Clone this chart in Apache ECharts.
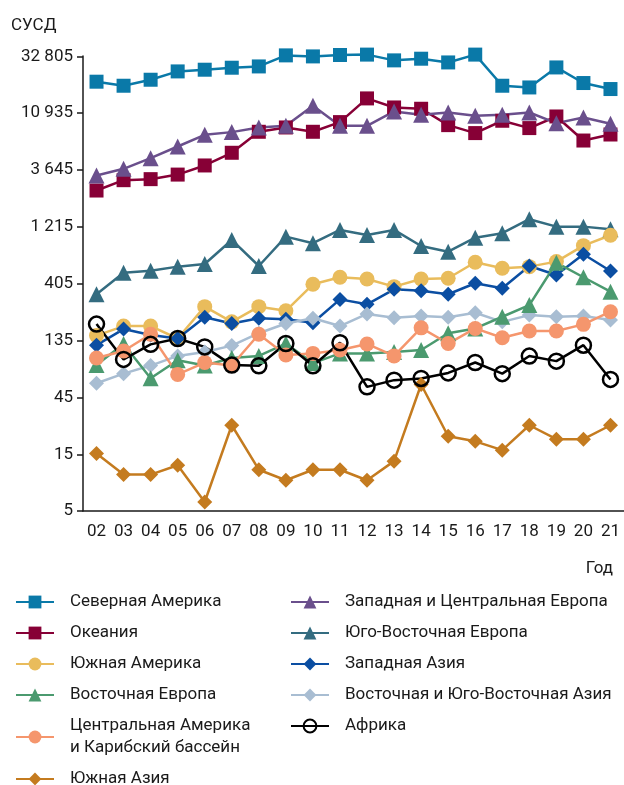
<!DOCTYPE html>
<html>
<head>
<meta charset="utf-8">
<script src="https://cdn.jsdelivr.net/npm/echarts@6/dist/echarts.min.js"></script>
<style>
  html, body { margin: 0; padding: 0; background: #ffffff; }
  #chart { width: 624px; height: 785px; }
</style>
</head>
<body>
<div id="chart"></div>
<script>
var years = ['02', '03', '04', '05', '06', '07', '08', '09', '10', '11', '12', '13', '14', '15', '16', '17', '18', '19', '20', '21']
var yTicks = [5, 15, 45, 135, 405, 1215, 3645, 10935, 32805]

var northAmerica = [19970, 18470, 20740, 24360, 25170, 26160, 26820, 33200, 32550, 33450, 33700, 30150, 31130, 28970, 33700, 18470, 17870, 26300, 19460, 17330]
var oceania = [2440, 2980, 3040, 3320, 3960, 5060, 7590, 8250, 7590, 9150, 14460, 12140, 11840, 8630, 7400, 9390, 8150, 10200, 6410, 7200]
var southAmerica = [148, 178, 178, 140, 259, 193, 259, 239, 399, 457, 442, 381, 442, 448, 610, 544, 561, 618, 841, 1029]
var eastEurope = [84, 126, 65, 92, 83, 96, 100, 127, 87, 105, 105, 108, 112, 155, 170, 213, 267, 605, 457, 346]
var centralAmerica = [96, 110, 152, 70, 88, 83, 152, 102, 105, 112, 126, 100, 172, 127, 170, 142, 162, 162, 184, 235]
var southAsia = [15.2, 10.1, 10.1, 12.1, 5.95, 26.2, 11.1, 9.06, 11.1, 11.1, 9.06, 13.1, 57.6, 21.2, 19.2, 16.2, 26.2, 20, 20, 26.2]
var westCentralEurope = [3260, 3710, 4560, 5710, 7160, 7540, 8250, 8520, 12540, 8520, 8520, 11240, 10540, 11020, 10340, 10540, 11020, 8970, 10000, 8860]
var seEurope = [329, 499, 519, 561, 590, 939, 568, 1001, 882, 1140, 1035, 1140, 836, 749, 982, 1070, 1402, 1215, 1215, 1155]
var westAsia = [123, 168, 150, 140, 211, 187, 207, 203, 190, 298, 271, 362, 352, 329, 407, 369, 568, 477, 712, 516]
var eastSEAsia = [59, 71, 83, 100, 108, 122, 155, 187, 207, 178, 225, 209, 216, 211, 230, 193, 220, 213, 216, 200]
var africa = [185, 93.5, 125, 140, 119, 83.7, 82.6, 127, 82.6, 129, 55, 62.6, 64.7, 72, 88, 71, 99.7, 90.4, 123, 63.5]

var fontFamily = 'Roboto, sans-serif'
var textColor = '#1a1a1a'

function line(name, data, color, symbol, size) {
  return {
    name: name,
    type: 'line',
    data: data,
    symbol: symbol,
    symbolSize: size,
    showAllSymbol: true,
    clip: false,
    lineStyle: { color: color, width: 2.5 },
    itemStyle: { color: color },
    emphasis: { disabled: true }
  }
}

var series = [
  line('Северная Америка', northAmerica, '#0a79a8', 'rect', 14),
  line('Океания', oceania, '#870036', 'rect', 14),
  line('Западная и Центральная Европа', westCentralEurope, '#6a4f8c', 'triangle', 16),
  line('Юго-Восточная Европа', seEurope, '#346c80', 'triangle', 16),
  line('Южная Америка', southAmerica, '#e9bc5c', 'circle', 15),
  line('Западная Азия', westAsia, '#0b4ea2', 'diamond', 15),
  line('Восточная и Юго-Восточная Азия', eastSEAsia, '#a8bdd2', 'diamond', 15),
  line('Восточная Европа', eastEurope, '#4b9a6f', 'triangle', 16),
  line('Центральная Америка\nи Карибский бассейн', centralAmerica, '#f5966d', 'circle', 15),
  line('Южная Азия', southAsia, '#c47b1f', 'diamond', 15)
]
var af = line('Африка', africa, '#000000', 'circle', 15)
af.itemStyle = { color: 'rgba(255,255,255,0)', borderColor: '#000000', borderWidth: 2.5 }
series.push(af)

var col1 = ['Северная Америка', 'Океания', 'Южная Америка', 'Восточная Европа', 'Центральная Америка\nи Карибский бассейн', 'Южная Азия']
var col2 = ['Западная и Центральная Европа', 'Юго-Восточная Европа', 'Западная Азия', 'Восточная и Юго-Восточная Азия', 'Африка']

function legendCol(data, left) {
  return {
    data: data,
    orient: 'vertical',
    left: left,
    top: 586,
    height: 220,
    itemWidth: 38,
    itemHeight: 16,
    itemGap: 9,
    selectedMode: false,
    textStyle: { fontFamily: fontFamily, fontSize: 17, lineHeight: 22, color: textColor, padding: [0, 0, 0, 11] }
  }
}

// label each tick with the nearest value of yTicks
function tickLabel(v) {
  var best = yTicks[0]
  yTicks.forEach(function (t) {
    if (Math.abs(Math.log(t / v)) < Math.abs(Math.log(best / v))) best = t
  })
  return String(best).replace(/\B(?=(\d{3})+(?!\d))/g, ' ')
}

var chart = echarts.init(document.getElementById('chart'))
chart.setOption({
  animation: false,
  title: [
    { text: 'СУСД', left: 6, top: 12, textStyle: { fontFamily: fontFamily, fontSize: 17, fontWeight: 'normal', color: textColor } },
    { text: 'Год', right: 6, top: 555, textStyle: { fontFamily: fontFamily, fontSize: 17, fontWeight: 'normal', color: textColor } }
  ],
  legend: [legendCol(col1, 10), legendCol(col2, 285)],
  grid: { left: 83, right: 0, top: 56, bottom: 274 },
  xAxis: {
    type: 'category',
    data: years,
    boundaryGap: true,
    axisLine: { lineStyle: { color: textColor, width: 1.5 } },
    axisTick: { length: 6, lineStyle: { color: textColor, width: 1.5 } },
    axisLabel: { fontFamily: fontFamily, fontSize: 17, color: textColor, margin: 12, interval: 0 }
  },
  yAxis: {
    type: 'log',
    logBase: 3,
    min: yTicks[0],
    max: yTicks[yTicks.length - 1],
    interval: 1,
    splitLine: { show: false },
    axisLine: { show: true, lineStyle: { color: textColor, width: 1.5 } },
    axisTick: { show: true, length: 6, lineStyle: { color: textColor, width: 1.5 } },
    axisLabel: { fontFamily: fontFamily, fontSize: 17, color: textColor, margin: 10, formatter: tickLabel }
  },
  series: series
})
window.addEventListener('resize', function () { chart.resize() })
</script>
</body>
</html>
